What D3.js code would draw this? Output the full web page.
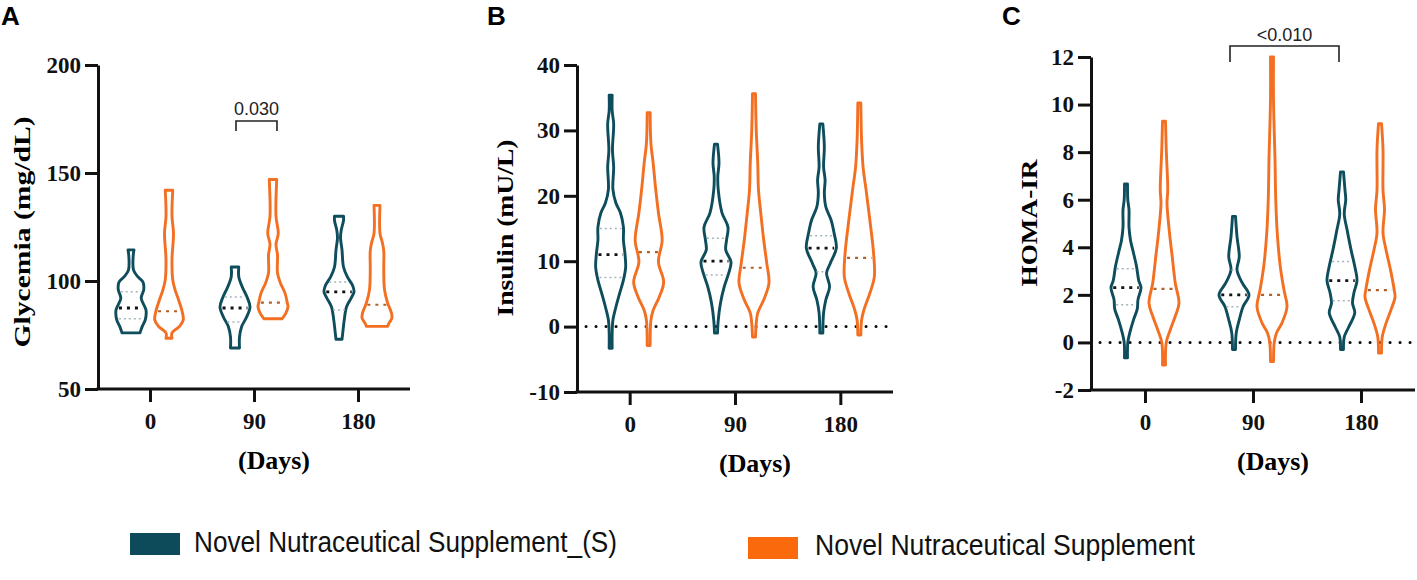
<!DOCTYPE html>
<html>
<head>
<meta charset="utf-8">
<script src="https://cdn.jsdelivr.net/npm/d3@7"></script>
<style>
  body { margin: 0; background: #fff; }
</style>
</head>
<body>
<svg id="chart"></svg>
<script>
const WIDTH = 1417;
const HEIGHT = 580;

const days = [0, 90, 180];
const groups = ["S", "N"];
const groupLabels = ["Novel Nutraceutical Supplement_(S)", "Novel Nutraceutical Supplement"];
const groupColors = ["#0e4d5c", "#f36f21"];
const medianColors = ["#111111", "#b0612a"];

// violin outlines: [value, relative width], min -> max, one per day
const glycemiaS = [
  [[76, 0.6], [79, 0.75], [82, 0.95], [86.6, 1.0], [92, 0.68], [96, 0.85], [99.5, 0.8], [102, 0.45], [105, 0.17], [112, 0.15], [114.4, 0.2]],
  [[69, 0.3], [74, 0.3], [79, 0.45], [83, 0.75], [88, 1.0], [92.6, 0.8], [97, 0.5], [102, 0.25], [106.5, 0.25]],
  [[73, 0.2], [76, 0.25], [82, 0.35], [88, 0.5], [92, 0.8], [95, 1.0], [98, 0.9], [102, 0.55], [106.5, 0.3], [114.4, 0.2], [120, 0.1], [123.6, 0.15], [128, 0.3], [130, 0.3]]
];
const glycemiaN = [
  [[73.5, 0.2], [76, 0.2], [79, 0.7], [82, 0.95], [86.6, 0.85], [91, 0.65], [96, 0.4], [100.5, 0.25], [110, 0.2], [122, 0.3], [130, 0.2], [142, 0.25]],
  [[82.5, 0.6], [85, 0.85], [88, 1.0], [90, 0.95], [94.4, 0.8], [99, 0.5], [103.7, 0.3], [112, 0.3], [117, 0.2], [122, 0.35], [130, 0.2], [147, 0.25]],
  [[79, 0.7], [80.5, 0.8], [83, 1.0], [85.5, 0.95], [90, 0.7], [96, 0.5], [105, 0.45], [114, 0.45], [118, 0.35], [122, 0.2], [135, 0.2]]
];
const glycemiaMedianS = [87.5, 87.5, 95];
const glycemiaQ1S = [82.5, 81, 86.6];
const glycemiaQ3S = [95, 92.6, 99.5];
const glycemiaMedianN = [86, 90, 89];

const insulinS = [
  [[-3.3, 0.1], [-1, 0.1], [1, 0.15], [3, 0.35], [5.1, 0.6], [7.1, 0.85], [9.1, 1.0], [11.2, 0.95], [13.2, 0.85], [15.2, 0.85], [17.4, 0.65], [18.9, 0.35], [21, 0.15], [24.4, 0.2], [27, 0.12], [31, 0.2], [33, 0.1], [35.4, 0.1]],
  [[-1, 0.1], [1, 0.15], [3.6, 0.3], [6.1, 0.55], [8.2, 0.85], [9.9, 1.0], [11.7, 0.65], [13.2, 0.7], [15.2, 0.8], [17.4, 0.4], [20.9, 0.15], [23, 0.12], [25, 0.2], [27.9, 0.1]],
  [[-1, 0.1], [2.1, 0.15], [4.1, 0.3], [6.1, 0.55], [8.2, 0.35], [9.7, 0.6], [12, 1.0], [14.3, 0.85], [16.3, 0.65], [18.3, 0.3], [20.4, 0.2], [22.4, 0.25], [24.4, 0.15], [27.5, 0.2], [31, 0.1]]
];
const insulinN = [
  [[-2.9, 0.1], [1, 0.15], [2.5, 0.3], [4.5, 0.7], [6.8, 1.0], [9.9, 0.65], [13.2, 0.9], [17.4, 0.65], [21.4, 0.45], [25, 0.3], [28, 0.15], [32.7, 0.1]],
  [[-1.6, 0.1], [0.5, 0.15], [2.1, 0.25], [4.1, 0.65], [6.7, 1.0], [9.7, 0.85], [13.2, 0.65], [17.4, 0.45], [20.9, 0.3], [25, 0.25], [30, 0.15], [35.6, 0.1]],
  [[-1.3, 0.1], [1, 0.15], [2.5, 0.3], [5.1, 0.7], [7.6, 1.0], [11.2, 0.95], [16.3, 0.7], [20.9, 0.45], [24.4, 0.25], [28.5, 0.15], [34.2, 0.1]]
];
const insulinMedianS = [11, 10, 12];
const insulinQ1S = [7.5, 7.9, 8.4];
const insulinQ3S = [15, 13.5, 13.9];
const insulinMedianN = [11.4, 9, 10.5];

const homaS = [
  [[-0.65, 0.1], [0, 0.12], [0.4, 0.25], [0.95, 0.5], [1.4, 0.75], [1.8, 0.8], [2.3, 1.0], [2.6, 0.85], [3.2, 0.7], [3.76, 0.5], [4.3, 0.3], [4.85, 0.2], [5.57, 0.2], [6.0, 0.12], [6.66, 0.1]],
  [[-0.3, 0.1], [0.4, 0.15], [0.95, 0.35], [1.5, 0.6], [2.0, 1.0], [2.5, 0.55], [3.05, 0.2], [3.6, 0.35], [4.45, 0.2], [5.3, 0.1]],
  [[-0.3, 0.1], [0.23, 0.15], [0.65, 0.45], [1.24, 0.85], [1.65, 0.7], [2.1, 0.8], [2.6, 1.0], [3.2, 0.85], [3.9, 0.6], [4.7, 0.35], [5.4, 0.15], [6.0, 0.25], [6.4, 0.2], [7.17, 0.1]]
];
const homaN = [
  [[-0.95, 0.1], [0, 0.15], [0.5, 0.4], [1.1, 0.75], [1.65, 1.0], [2.5, 0.75], [3.6, 0.55], [4.7, 0.35], [5.86, 0.2], [6.4, 0.25], [8.1, 0.15], [9.3, 0.1]],
  [[-0.8, 0.1], [0, 0.15], [0.4, 0.3], [0.8, 0.65], [1.5, 1.0], [2.2, 0.8], [3.2, 0.55], [4.6, 0.35], [6.0, 0.25], [7.7, 0.2], [10.2, 0.1], [12, 0.1]],
  [[-0.45, 0.1], [0.23, 0.15], [0.8, 0.4], [1.4, 0.75], [1.9, 1.0], [2.2, 0.95], [3.05, 0.7], [3.9, 0.4], [4.6, 0.2], [5.6, 0.3], [6.4, 0.2], [8.1, 0.2], [9.2, 0.1]]
];
const homaMedianS = [2.3, 2.0, 2.6];
const homaQ1S = [1.58, 1.5, 1.75];
const homaQ3S = [3.1, 3.05, 3.4];
const homaMedianN = [2.25, 2.0, 2.2];

const glycemiaTicks = [50, 100, 150, 200];
const insulinTicks = [-10, 0, 10, 20, 30, 40];
const homaTicks = [-2, 0, 2, 4, 6, 8, 10, 12];

// panel layout
const panels = [
  { letter: "A", letterX: 1, x0: 98, width: 312, top: 65, bottom: 389, domain: [50, 200], ticks: glycemiaTicks,
    title: "Glycemia (mg/dL)", titleX: 30, titleY: 232, titleLen: 231, zero: false,
    S: glycemiaS, N: glycemiaN, medS: glycemiaMedianS, q1S: glycemiaQ1S, q3S: glycemiaQ3S, medN: glycemiaMedianN,
    bracket: { from: [90, "S"], to: [90, "N"], top: 121, drop: 10, dx: [1, 4], label: "0.030", labelY: 115 } },
  { letter: "B", letterX: 487, x0: 577, width: 316, top: 65, bottom: 392, domain: [-10, 40], ticks: insulinTicks,
    title: "Insulin (mU/L)", titleX: 513, titleY: 228, titleLen: 177, zero: true,
    S: insulinS, N: insulinN, medS: insulinMedianS, q1S: insulinQ1S, q3S: insulinQ3S, medN: insulinMedianN },
  { letter: "C", letterX: 1002, x0: 1091, width: 324, top: 57, bottom: 390, domain: [-2, 12], ticks: homaTicks,
    title: "HOMA-IR", titleX: 1037, titleY: 223, titleLen: 127, zero: true,
    S: homaS, N: homaN, medS: homaMedianS, q1S: homaQ1S, q3S: homaQ3S, medN: homaMedianN,
    bracket: { from: [90, "S"], to: [180, "S"], top: 46, drop: 16, dx: [-4, -3], label: "<0.010", labelY: 41 } }
];

const svg = d3.select("#chart").attr("width", WIDTH).attr("height", HEIGHT);
const SERIF = "'Liberation Serif', 'Times New Roman', serif";
const SANS = "'Liberation Sans', Arial, sans-serif";

const halfWidth = d3.scaleLinear().domain([0, 1]).range([0, 15]);
const groupOffset = d3.scalePoint().domain(groups).range([-19, 19]);

function widthAt(profile, v) {
  for (let i = 1; i < profile.length; i++) {
    const [v0, w0] = profile[i - 1];
    const [v1, w1] = profile[i];
    if (v >= v0 && v <= v1) return w0 + (w1 - w0) * (v - v0) / (v1 - v0);
  }
  return 0;
}

panels.forEach((p) => {
  const y = d3.scaleLinear().domain(p.domain).range([p.bottom, p.top]);
  const x = d3.scalePoint().domain(days).range([p.x0, p.x0 + p.width]).padding(0.5);
  const g = svg.append("g").attr("class", "panel-" + p.letter);

  // panel letter
  svg.append("text")
    .attr("x", p.letterX).attr("y", 25)
    .attr("font-family", SANS).attr("font-weight", "bold").attr("font-size", 26)
    .text(p.letter);

  // zero reference line
  if (p.zero) {
    g.append("line")
      .attr("x1", p.x0 + 9).attr("x2", p.x0 + p.width)
      .attr("y1", y(0)).attr("y2", y(0))
      .attr("stroke", "#111").attr("stroke-width", 3)
      .attr("stroke-linecap", "round").attr("stroke-dasharray", "0.1 9.9");
  }

  // violins
  const center = (day, grp) => x(day) + groupOffset(grp);
  groups.forEach((grp, gi) => {
    p[grp].forEach((profile, di) => {
      const cx = center(days[di], grp);
      const area = d3.area()
        .curve(d3.curveCatmullRom.alpha(0.5))
        .y((d) => y(d[0]))
        .x0((d) => cx - halfWidth(d[1]))
        .x1((d) => cx + halfWidth(d[1]));
      g.append("path")
        .attr("d", area(profile))
        .attr("fill", "none")
        .attr("stroke", groupColors[gi])
        .attr("stroke-width", 2.9)
        .attr("stroke-linejoin", "round");

      const statLine = (v, color, sw, dash) => {
        const w = halfWidth(widthAt(profile, v)) * 0.85;
        g.append("line")
          .attr("x1", cx - w).attr("x2", cx + w)
          .attr("y1", y(v)).attr("y2", y(v))
          .attr("stroke", color).attr("stroke-width", sw)
          .attr("stroke-dasharray", dash);
      };
      if (grp === "S") {
        statLine(p.q1S[di], "#a7b3bb", 1.5, "2 3");
        statLine(p.q3S[di], "#a7b3bb", 1.5, "2 3");
        statLine(p.medS[di], medianColors[0], 2.8, "3 5");
      } else {
        statLine(p.medN[di], medianColors[1], 2.2, "3 5");
      }
    });
  });

  // axes
  const yAxis = g.append("g")
    .attr("transform", `translate(${p.x0},0)`)
    .call(d3.axisLeft(y).tickValues(p.ticks).tickFormat((d) => String(d))
      .tickSize(13).tickSizeOuter(0).tickPadding(4));
  const xAxis = g.append("g")
    .attr("transform", `translate(0,${p.bottom})`)
    .call(d3.axisBottom(x).tickSize(13).tickSizeOuter(0).tickPadding(11));
  [yAxis, xAxis].forEach((a) => {
    a.selectAll("path, line").attr("stroke", "#111").attr("stroke-width", 3);
    a.selectAll("text")
      .attr("font-family", SERIF).attr("font-weight", "bold").attr("font-size", 23).attr("fill", "#111");
  });
  xAxis.select(".domain").attr("d", `M${p.x0 - 1.5},0H${p.x0 + p.width}`);

  // axis titles
  g.append("text")
    .attr("transform", `translate(${p.titleX},${p.titleY}) rotate(-90)`)
    .attr("text-anchor", "middle")
    .attr("font-family", SERIF).attr("font-weight", "bold").attr("font-size", 23)
    .attr("textLength", p.titleLen).attr("lengthAdjust", "spacingAndGlyphs")
    .text(p.title);
  g.append("text")
    .attr("x", p.x0 + p.width / 2 + 20).attr("y", p.bottom + 80)
    .attr("text-anchor", "middle")
    .attr("font-family", SERIF).attr("font-weight", "bold").attr("font-size", 25)
    .attr("textLength", 72).attr("lengthAdjust", "spacingAndGlyphs")
    .text("(Days)");

  // significance bracket
  if (p.bracket) {
    const b = p.bracket;
    const xa = center(b.from[0], b.from[1]) + b.dx[0];
    const xb = center(b.to[0], b.to[1]) + b.dx[1];
    g.append("path")
      .attr("d", `M${xa},${b.top + b.drop}V${b.top}H${xb}V${b.top + b.drop}`)
      .attr("fill", "none").attr("stroke", "#222").attr("stroke-width", 1.6);
    g.append("text")
      .attr("x", (xa + xb) / 2).attr("y", b.labelY)
      .attr("text-anchor", "middle")
      .attr("font-family", SANS).attr("font-size", 18).attr("fill", "#222")
      .text(b.label);
  }
});

// legend
const legendItems = [
  { rectX: 130, rectY: 533, textX: 194, textY: 552, textLen: 423 },
  { rectX: 748, rectY: 537, textX: 815, textY: 555, textLen: 380 }
];
const legend = svg.append("g").attr("class", "legend");
legend.selectAll("g")
  .data(groupLabels)
  .join((enter) => {
    const item = enter.append("g");
    item.append("rect")
      .attr("x", (_, i) => legendItems[i].rectX).attr("y", (_, i) => legendItems[i].rectY)
      .attr("width", 50).attr("height", 22)
      .attr("fill", (_, i) => (i === 0 ? "#0d4b5b" : "#fa6a0c"));
    item.append("text")
      .attr("x", (_, i) => legendItems[i].textX).attr("y", (_, i) => legendItems[i].textY)
      .attr("font-family", "'Liberation Sans Narrow', 'Arial Narrow', 'Liberation Sans', sans-serif")
      .attr("font-size", 29).attr("fill", "#111")
      .attr("textLength", (_, i) => legendItems[i].textLen).attr("lengthAdjust", "spacingAndGlyphs")
      .text((d) => d);
    return item;
  });
</script>
</body>
</html>
